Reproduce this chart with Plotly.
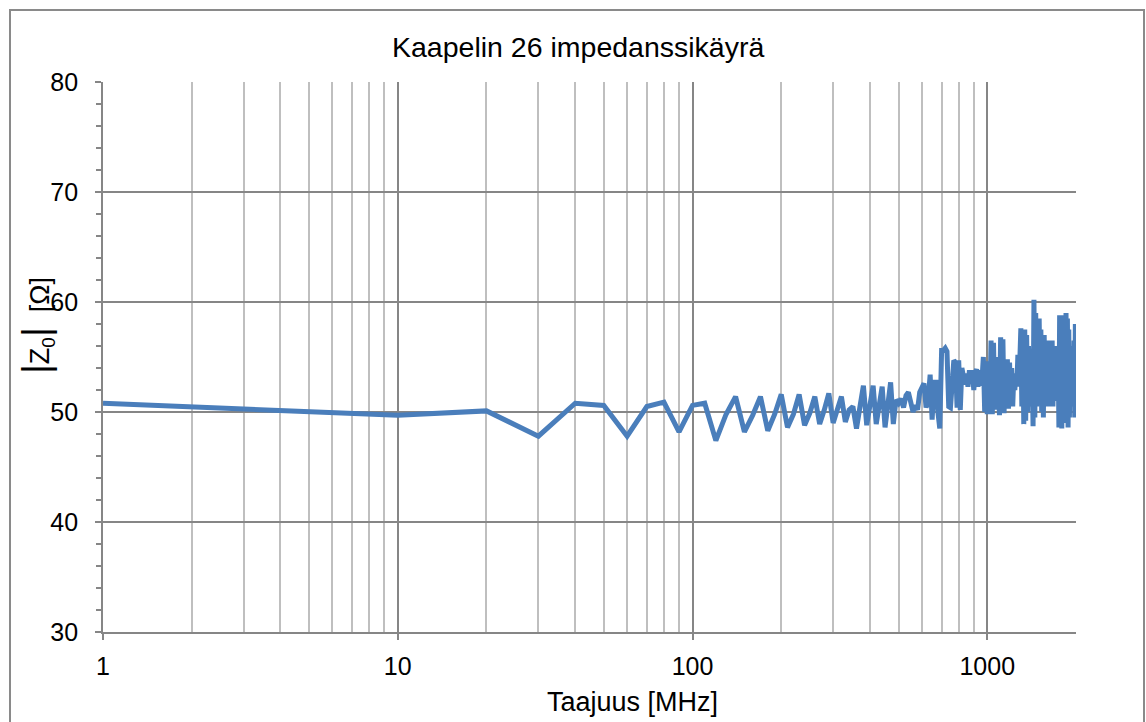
import plotly.graph_objects as go
import math

# Frequency points [MHz]
freq = [1] + list(range(10, 2001, 10))

# |Z0| values [Ohm]
impedance = [
    50.8,                                                     # 1
    49.7, 50.1, 47.8, 50.8, 50.6, 47.8, 50.5, 50.9, 48.2, 50.6,   # 10-100
    50.8, 47.4, 49.8, 51.4, 48.2, 49.7, 51.4, 48.3, 49.8, 51.6,   # 110-200
    48.6, 49.8, 51.6, 48.8, 49.9, 51.4, 48.9, 50.2, 51.7, 49.0,   # 210-300
    50.3, 51.4, 49.1, 50.2, 50.5, 48.5, 50.5, 52.4, 48.8, 50.4,   # 310-400
    52.4, 48.9, 50.6, 52.3, 48.6, 50.5, 52.7, 48.9, 51.1, 50.8,   # 410-500
    51.2, 50.4, 51.5, 51.8, 51.0, 50.0, 50.6, 50.2, 51.8, 52.3,   # 510-600
    52.6, 50.4, 51.0, 53.4, 49.3, 52.7, 52.7, 50.0, 48.5, 55.6,   # 610-700
    55.6, 55.8, 55.5, 50.5, 50.4, 52.5, 54.7, 54.5, 50.4, 54.7,   # 710-800
    50.2, 54.0, 53.0, 52.5, 53.5, 52.3, 53.8, 52.6, 53.8, 52.0,   # 810-900
    53.5, 53.9, 52.3, 53.8, 52.4, 53.0, 55.0, 50.0, 54.6, 49.8,   # 910-1000
    54.5, 50.5, 56.5, 49.8, 56.3, 50.2, 55.0, 51.0, 53.5, 49.7,   # 1010-1100
    56.8, 50.0, 56.6, 49.9, 53.0, 51.5, 54.8, 50.3, 54.5, 51.0,   # 1110-1200
    54.0, 50.5, 53.2, 52.0, 53.5, 52.4, 55.2, 52.3, 54.8, 57.6,   # 1210-1300
    50.5, 56.8, 48.9, 57.5, 49.2, 57.0, 50.0, 56.0, 52.5, 55.5,   # 1310-1400
    50.5, 54.0, 48.7, 60.2, 49.5, 59.0, 50.5, 57.0, 53.5, 58.5,   # 1410-1500
    52.0, 57.5, 50.0, 56.5, 49.5, 57.0, 51.0, 55.5, 52.5, 56.5,   # 1510-1600
    50.5, 56.0, 52.0, 55.0, 53.5, 56.5, 50.5, 55.5, 52.5, 56.0,   # 1610-1700
    51.0, 54.5, 53.0, 55.0, 48.6, 58.8, 49.0, 58.8, 48.5, 57.0,   # 1710-1800
    50.5, 55.5, 51.5, 54.5, 59.0, 49.0, 58.5, 48.6, 57.5, 49.5,   # 1810-1900
    56.0, 51.0, 55.0, 52.5, 54.5, 50.5, 56.5, 49.5, 58.0, 49.5,   # 1910-2000
]

x_major_ticks = [1, 10, 100, 1000]
x_minor_ticks = [m * d for d in (1, 10, 100) for m in range(2, 10)] + [2000]
y_major_ticks = [30, 40, 50, 60, 70, 80]
y_minor_ticks = list(range(30, 81, 2))

title_text = "Kaapelin 26 impedanssikäyrä"
x_title = "Taajuus [MHz]"
y_title = ("<span style='font-size:38px'>|</span>Z<sub>0</sub>"
           "<span style='font-size:38px'>|</span>  [Ω]")

W, H = 1146, 722
L, R, T, B = 103, W - 1076, 82, H - 632
pw, ph = W - L - R, H - T - B

def px(xp):
    return (xp - L) / pw

def py(yp):
    return (H - B - yp) / ph

font_family = "Liberation Sans, Arial, sans-serif"

fig = go.Figure()
fig.add_trace(go.Scatter(
    x=freq, y=impedance, mode="lines",
    line=dict(color="#4a7ebb", width=5),
    showlegend=False, hoverinfo="x+y",
))

major_grid = "#868686"
minor_grid = "#bfbfbf"

fig.update_layout(
    width=W, height=H,
    margin=dict(l=L, r=R, t=T, b=B),
    paper_bgcolor="white", plot_bgcolor="white",
    font=dict(family=font_family, size=25, color="black"),
    xaxis=dict(
        type="log", range=[0, math.log10(2000)],
        tickvals=x_major_ticks, ticktext=[str(v) for v in x_major_ticks],
        showgrid=True, gridcolor=major_grid, gridwidth=1.5,
        ticks="outside", ticklen=6, tickcolor=major_grid, tickwidth=1.5,
        showline=True, linecolor=major_grid, linewidth=1.8,
        ticklabelstandoff=5,
        tickfont=dict(size=25),
        minor=dict(tickvals=x_minor_ticks, showgrid=True, gridcolor=minor_grid,
                   gridwidth=1.5, ticks=""),
        zeroline=False,
    ),
    yaxis=dict(
        range=[30, 80],
        tickvals=y_major_ticks,
        showgrid=True, gridcolor=major_grid, gridwidth=1.5,
        ticks="outside", ticklen=6, tickcolor=major_grid, tickwidth=1.5,
        showline=True, linecolor=major_grid, linewidth=1.8,
        ticklabelstandoff=12,
        tickfont=dict(size=25),
        minor=dict(tickvals=y_minor_ticks, ticks="outside", ticklen=5,
                   tickcolor=major_grid, tickwidth=1.5, showgrid=False),
        zeroline=False,
    ),
    shapes=[dict(
        type="rect", xref="paper", yref="paper",
        x0=px(10), x1=px(1144), y0=py(760), y1=py(10),
        line=dict(color="#8a8a8a", width=2), fillcolor="rgba(0,0,0,0)",
        layer="below",
    )],
    annotations=[
        dict(text=title_text, xref="paper", yref="paper",
             x=px(578), y=py(47), showarrow=False,
             xanchor="center", yanchor="middle",
             font=dict(size=28.5, family=font_family, color="black")),
        dict(text=x_title, xref="paper", yref="paper",
             x=px(632), y=py(702), showarrow=False,
             xanchor="center", yanchor="middle",
             font=dict(size=27, family=font_family, color="black")),
        dict(text=y_title, xref="paper", yref="paper",
             x=px(37), y=py(326), showarrow=False, textangle=-90,
             xanchor="center", yanchor="middle",
             font=dict(size=27, family=font_family, color="black")),
    ],
)

fig.write_html("out.html", config={"displayModeBar": False},
               post_script="document.body.style.margin='0px';")
